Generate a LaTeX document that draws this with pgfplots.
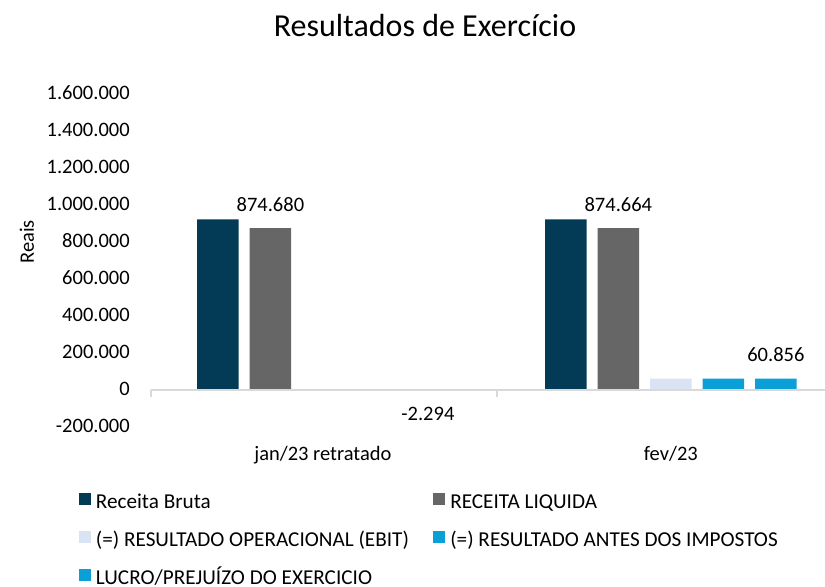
\documentclass[border=0pt]{standalone}
\usepackage{fontspec}
\setmainfont{Carlito}
\usepackage{pgfplots}
\pgfplotsset{compat=1.18}
\definecolor{cBruta}{HTML}{033A55}
\definecolor{cLiq}{HTML}{666666}
\definecolor{cEbit}{HTML}{DAE3F3}
\definecolor{cAntes}{HTML}{0B9FD8}
\definecolor{cLucro}{HTML}{0B9FD8}
\definecolor{cAxis}{HTML}{D9D9D9}
\begin{document}
\begin{tikzpicture}[font=\fontsize{10.25}{12}\selectfont]
\path[use as bounding box] (0,0) rectangle (412.5pt,293.5pt);
\node[anchor=base, font=\fontsize{16}{19}\selectfont] at (212.5pt,275pt) {Resultados de Exercício};
\node[rotate=90] at (13.5pt,172.5pt) {Reais};
\begin{axis}[
  at={(75.5pt,80pt)}, anchor=south west,
  width=337pt, height=166.5pt, scale only axis,
  clip=false,
  xmin=-0.494, xmax=1.443,
  ymin=-200000, ymax=1600000,
  ytick={-200000,0,200000,400000,600000,800000,1000000,1200000,1400000,1600000},
  scaled y ticks=false,
  axis line style={draw=none},
  tick style={draw=none},
  major tick length=0pt,
  xtick={0,1}, xticklabels={jan/23 retratado, fev/23},
  xticklabel style={anchor=base, yshift=-16.8pt},
  yticklabel style={anchor=east, xshift=-7.1pt, yshift=0.6pt},
  ybar=5.5pt, bar width=20.75pt,
  /pgf/number format/fixed,
  /pgf/number format/precision=0,
  /pgf/number format/1000 sep={.},
  /pgf/number format/assume math mode=true,
  nodes near coords style={inner ysep=8.3pt, font=\fontsize{10.25}{12}\selectfont},
  legend columns=2,
  legend cell align=left,
  legend image code/.code={\fill[#1] (0pt,-0.5pt) rectangle (6pt,5.5pt);},
  legend style={draw=none, fill=none, inner sep=0pt,
    at={(rel axis cs:-0.108,-0.197)}, anchor=north west,
    font=\fontsize{10.6}{12}\selectfont,
    nodes={inner sep=0pt, text height=7pt, text depth=2pt},
    row sep=9pt,
    /tikz/every odd column/.append style={column sep=2.65pt},
    /tikz/every even column/.append style={column sep=12pt}},
]
\addplot[fill=cBruta, draw=none] coordinates {(0,922700) (1,922700)};
\addlegendentry{Receita Bruta}
\addplot[fill=cLiq, draw=none, nodes near coords] coordinates {(0,874680) (1,874664)};
\addlegendentry{RECEITA LIQUIDA}
\addplot[fill=cEbit, draw=none] coordinates {(0,-1500) (1,61500)};
\addlegendentry{(=) RESULTADO OPERACIONAL (EBIT)}
\addplot[fill=cAntes, draw=none] coordinates {(0,-2294) (1,60856)};
\addlegendentry{(=) RESULTADO ANTES DOS IMPOSTOS}
\addplot[fill=cLucro, draw=none, nodes near coords] coordinates {(0,-2294) (1,60856)};
\addlegendentry{LUCRO/PREJUÍZO DO EXERCICIO}
\draw[cAxis, line width=0.7pt] (axis cs:-0.494,0) -- (axis cs:1.443,0);
\draw[cAxis, line width=0.7pt] (axis cs:-0.494,0) -- ([yshift=-3.3pt]axis cs:-0.494,0);
\draw[cAxis, line width=0.7pt] (axis cs:0.5,0) -- ([yshift=-3.3pt]axis cs:0.5,0);
\end{axis}
\end{tikzpicture}
\end{document}
